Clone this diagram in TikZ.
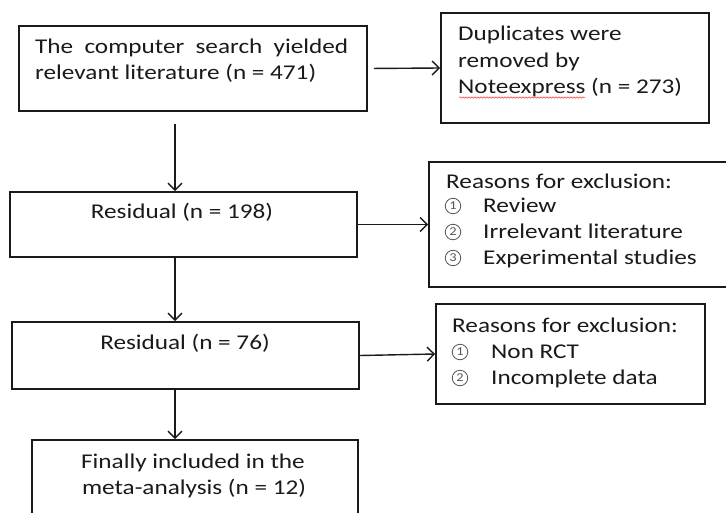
\documentclass[tikz,border=0pt]{standalone}
\usepackage{fontspec}
\setmainfont{Carlito}[FakeStretch=1.2]
\usetikzlibrary{arrows.meta,decorations.pathmorphing}
\definecolor{ink}{HTML}{1A1A1A}
\definecolor{circ}{HTML}{555555}
\tikzset{
  box/.style={draw=ink, line width=1.8pt, rectangle, inner sep=0pt},
  txt/.style={inner sep=0pt, text=ink, font=\fontsize{21}{26}\selectfont},
  cnum/.style={circle, draw=circ, line width=0.8pt, minimum size=15.5pt, inner sep=0pt, text=circ, font=\fontsize{12}{12}\selectfont},
  flow/.style={draw=ink, line width=1.4pt, -{Straight Barb[length=7pt,width=14pt,line width=1.4pt]}},
}
\begin{document}
\begin{tikzpicture}[x=1pt,y=-1pt]
\clip (0,0) rectangle (726,512);
\fill[white] (0,0) rectangle (726,512);
\coordinate (spine) at (175,0);
% boxes
\node[box, minimum width=348pt, minimum height=85pt] (b1) at (193,68.5) {};
\node[box, minimum width=268pt, minimum height=110pt] (r1) at (575,68) {};
\node[box, minimum width=347pt, minimum height=65pt] (b2) at (183.5,224.5) {};
\node[box, minimum width=306pt, minimum height=125pt] (r2) at (582,224.5) {};
\node[box, minimum width=347pt, minimum height=67pt] (b3) at (185.5,355.5) {};
\node[box, minimum width=269pt, minimum height=100pt] (r3) at (570.5,354) {};
\node[box, minimum width=326pt, minimum height=90pt] (b4) at (195,485) {};
% texts
\node[txt, anchor=base west] (t1a) at (35,53) {\makebox[313pt][s]{The computer search yielded}};
\node[txt, anchor=base west] (t1b) at (35,79) {relevant literature (n = 471)};
\node[txt, anchor=base west] (t2a) at (458,40) {Duplicates were};
\node[txt, anchor=base west] (t2b) at (458,67) {removed by};
\node[txt, anchor=base west] (t2c) at (458,93) {Noteexpress (n = 273)};
\draw[red!80!white, line width=0.5pt, decorate, decoration={snake, amplitude=0.7pt, segment length=3pt}] (459,97.5) -- (585,97.5);
\node[txt, anchor=base] (t3) at (182,218) {Residual (n = 198)};
\node[txt, anchor=base west] (t4a) at (446,188) {Reasons for exclusion:};
\node[cnum] (n4b) at (453,206) {1};
\node[txt, anchor=base west] (t4b) at (483,212) {Review};
\node[cnum] (n4c) at (453,232) {2};
\node[txt, anchor=base west] (t4c) at (483,238) {Irrelevant literature};
\node[cnum] (n4d) at (453,258) {3};
\node[txt, anchor=base west] (t4d) at (483,264) {Experimental studies};
\node[txt, anchor=base] (t5) at (185,349) {Residual (n = 76)};
\node[txt, anchor=base west] (t6a) at (452,332) {Reasons for exclusion:};
\node[cnum] (n6b) at (460,352) {1};
\node[txt, anchor=base west] (t6b) at (491,358) {Non RCT};
\node[cnum] (n6c) at (460,378) {2};
\node[txt, anchor=base west] (t6c) at (491,384) {Incomplete data};
\node[txt, anchor=base] (t7a) at (193,468) {Finally included in the};
\node[txt, anchor=base] (t7b) at (194,494) {meta-analysis (n = 12)};
% connectors
\draw[flow, shorten <=12pt] (b1.south -| spine) -- (b2.north -| spine);
\draw[flow, shorten <=6pt] (b1.east) -- (r1.west);
\draw[flow] (b2.east) -- (r2.west);
\draw[flow] (b2.south -| spine) -- (b3.north -| spine);
\draw[flow] (b3.east) -- (r3.west);
\draw[flow] (b3.south -| spine) -- (b4.north -| spine);
\end{tikzpicture}
\end{document}
